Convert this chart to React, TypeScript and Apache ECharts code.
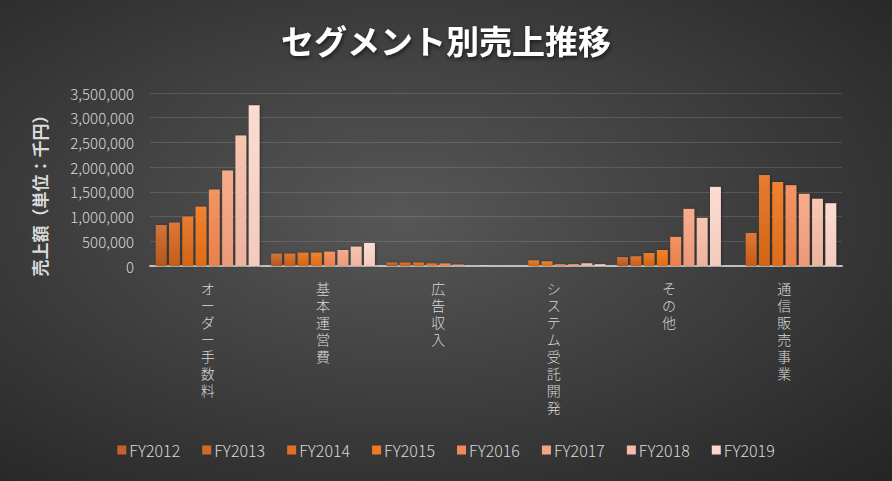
import React, { useEffect, useRef } from "react";
import * as echarts from "echarts";

const categories = ["オーダー手数料", "基本運営費", "広告収入", "システム受託開発", "その他", "通信販売事業"];
const years = ["FY2012", "FY2013", "FY2014", "FY2015", "FY2016", "FY2017", "FY2018", "FY2019"];
// values per year, in category order
const fy2012 = [830000, 250000, 70000, 0, 180000, 0];
const fy2013 = [878000, 250000, 68000, 0, 196000, 669000];
const fy2014 = [1000000, 270000, 68000, 115000, 263000, 1840000];
const fy2015 = [1200000, 270000, 52000, 95000, 324000, 1700000];
const fy2016 = [1547000, 290000, 50000, 35000, 588000, 1635000];
const fy2017 = [1930000, 324000, 28000, 35000, 1155000, 1460000];
const fy2018 = [2640000, 392000, 12000, 55000, 973000, 1360000];
const fy2019 = [3250000, 466000, 8000, 35000, 1600000, 1270000];
const seriesValues = [fy2012, fy2013, fy2014, fy2015, fy2016, fy2017, fy2018, fy2019];
const yTicks = [0, 500000, 1000000, 1500000, 2000000, 2500000, 3000000, 3500000];

const topColors = ["#d0763a", "#dd7834", "#e77c30", "#f0822f", "#f39563", "#f6ad8d", "#f8c5b1", "#fbdcd2"];
const bottomColors = ["#b4561c", "#c45d18", "#d36415", "#e06c18", "#e8804c", "#ec9a78", "#eeb39e", "#f2cbbd"];
const legendColors = ["#c4622a", "#d06a25", "#dd7025", "#ee7a26", "#f0895a", "#f3a583", "#f6bda6", "#f9d7cb"];

export default function App() {
  const ref = useRef<HTMLDivElement>(null);
  useEffect(() => {
    if (!ref.current) return;
    const chart = echarts.init(ref.current, null, { renderer: "svg" });
    const font = "'Noto Sans CJK JP', 'Noto Sans', sans-serif";
    chart.setOption({
      animation: false,
      backgroundColor: {
        type: "radial",
        x: 0.45,
        y: 0.45,
        r: 0.75,
        colorStops: [
          { offset: 0, color: "#575757" },
          { offset: 1, color: "#262626" },
        ],
      },
      title: {
        text: "セグメント別売上推移",
        left: "center",
        top: 18,
        textStyle: {
          color: "#ffffff",
          fontSize: 33,
          fontWeight: "bold",
          fontFamily: font,
          textShadowColor: "rgba(0,0,0,0.6)",
          textShadowBlur: 4,
          textShadowOffsetX: 1,
          textShadowOffsetY: 2,
        },
      },
      legend: {
        bottom: 18,
        left: "center",
        itemWidth: 9,
        itemHeight: 9,
        itemGap: 22,
        icon: "rect",
        textStyle: { color: "#d9d9d9", fontSize: 16, fontFamily: font, fontWeight: 300, padding: [0, 0, 0, -2] },
        data: years.map((y, i) => ({ name: y, itemStyle: { color: legendColors[i] } })),
      },
      grid: { left: 150, right: 50, top: 93, bottom: 215, containLabel: false },
      xAxis: {
        type: "category",
        data: categories,
        axisLine: { lineStyle: { color: "#bfbfbf", width: 2 } },
        axisTick: { show: false },
        axisLabel: {
          color: "#d9d9d9",
          fontSize: 14,
          fontWeight: 300,
          fontFamily: font,
          lineHeight: 17,
          margin: 13,
          interval: 0,
          formatter: (v: string) => v.split("").join("\n"),
        },
      },
      yAxis: {
        type: "value",
        min: 0,
        max: 3500000,
        interval: 500000,
        name: "売上額（単位：千円）",
        nameLocation: "middle",
        nameGap: 102,
        nameRotate: 90,
        nameTextStyle: { color: "#d9d9d9", fontSize: 17, fontWeight: "bold", fontFamily: font, padding: [0, 0, 0, -24] },
        axisLine: { show: false },
        axisTick: { show: false },
        splitLine: { lineStyle: { color: "rgba(255,255,255,0.13)", width: 1 } },
        axisLabel: {
          color: "#d9d9d9",
          fontSize: 15,
          fontWeight: 300,
          fontFamily: font,
          margin: 16,
          formatter: (v: number) => (yTicks.includes(v) ? v.toLocaleString("en-US") : ""),
        },
      },
      series: years.map((y, i) => ({
        name: y,
        type: "bar",
        data: seriesValues[i],
        barGap: "22%",
        barCategoryGap: "10%",
        itemStyle: {
          color: {
            type: "linear",
            x: 0,
            y: 0,
            x2: 0,
            y2: 1,
            colorStops: [
              { offset: 0, color: topColors[i] },
              { offset: 1, color: bottomColors[i] },
            ],
          },
          shadowColor: "rgba(0,0,0,0.35)",
          shadowBlur: 3,
          shadowOffsetX: 1,
        },
      })),
    });
    return () => chart.dispose();
  }, []);
  return (
    <div
      ref={ref}
      style={{ position: "absolute", left: 0, top: 0, width: 892, height: 481 }}
    />
  );
}
